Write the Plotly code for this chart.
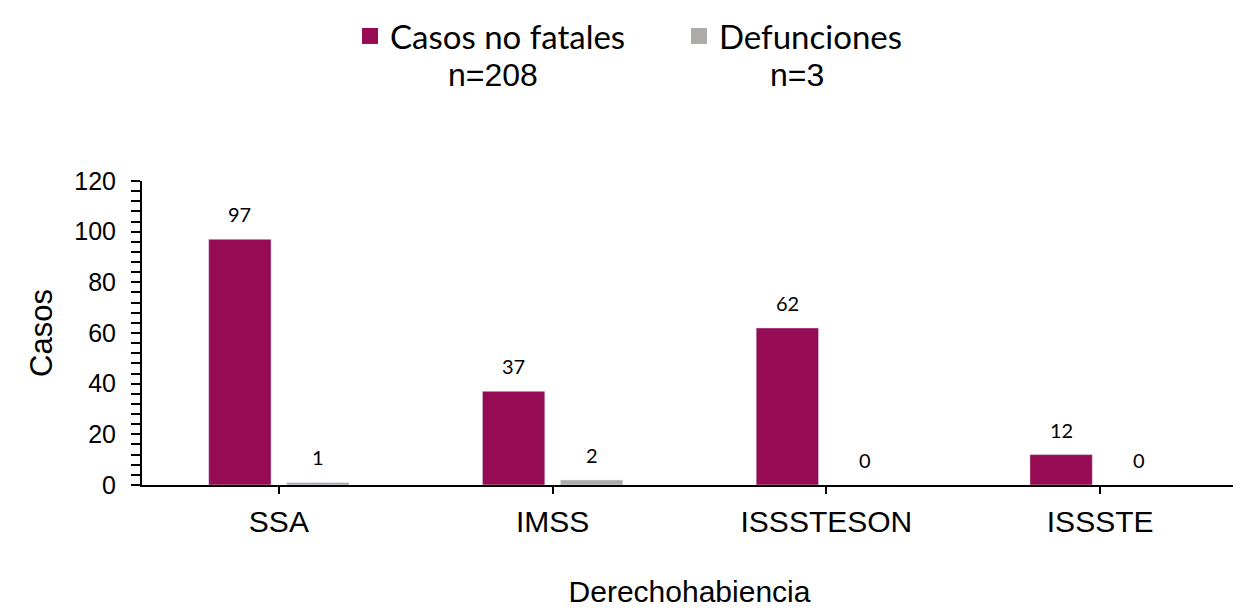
import plotly.graph_objects as go

categories = ["SSA", "IMSS", "ISSSTESON", "ISSSTE"]
casos_no_fatales = [97, 37, 62, 12]
defunciones = [1, 2, 0, 0]
series_names = ["Casos no fatales", "Defunciones"]
series_n = ["n=208", "n=3"]
y_ticks = [0, 20, 40, 60, 80, 100, 120]

MAROON = "#960C54"
GRAY = "#AEAAAA"

# geometry (figure px; page adds 8px body margin)
L, R, T, B = 134, 12, 173, 136
W, H = 1241, 613
PW, PH = W - L - R, H - T - B

fig = go.Figure()
fig.add_trace(go.Bar(x=categories, y=casos_no_fatales, name=series_names[0],
                     marker_color=MAROON, showlegend=False))
fig.add_trace(go.Bar(x=categories, y=defunciones, name=series_names[1],
                     marker_color=GRAY, showlegend=False))

# legend entries with square swatches
for name, col in zip(series_names, [MAROON, GRAY]):
    fig.add_trace(go.Scatter(x=[None], y=[None], mode="markers", name=name,
                             marker=dict(symbol="square", size=20, color=col)))

# value labels above bars
for vals, shift in [(casos_no_fatales, -39), (defunciones, 39)]:
    for c, v in zip(categories, vals):
        fig.add_annotation(x=c, y=v, text=str(v), showarrow=False,
                           xshift=shift, yshift=25, yanchor="middle",
                           font=dict(family="Lato", size=20, color="#000"))

# n annotations under legend
for txt, xs in zip(series_n, [493, 797]):
    fig.add_annotation(xref="paper", yref="paper", x=(xs - 8 - L) / PW,
                       y=(H - B - (75 - 8)) / PH,
                       text=txt, showarrow=False, xanchor="center", yanchor="middle",
                       font=dict(family="Liberation Sans", size=32, color="#000"))

fig.update_layout(
    width=W, height=H,
    margin=dict(l=L, r=R, t=T, b=B),
    paper_bgcolor="white", plot_bgcolor="white",
    barmode="group", bargap=0.43, bargroupgap=0.2,
    font=dict(family="Liberation Sans", color="#000"),
    legend=dict(orientation="h", xref="container", yref="container",
                x=342 / W, y=1, xanchor="left", yanchor="top",
                font=dict(family="Lato", size=33, color="#000"),
                itemsizing="trace", entrywidth=284, entrywidthmode="pixels",
                tracegroupgap=0, borderwidth=0),
)
fig.update_xaxes(showline=True, linecolor="#000", linewidth=2,
                 ticks="outside", ticklen=7, tickwidth=2, tickcolor="#000",
                 tickfont=dict(size=30), ticklabelstandoff=2,
                 title=dict(text="Derechohabiencia", font=dict(size=30), standoff=44),
                 showgrid=False)
fig.update_yaxes(range=[0, 120], tickvals=y_ticks, showline=True, linecolor="#000",
                 linewidth=2, ticks="outside", ticklen=9, tickwidth=2, tickcolor="#000",
                 tickfont=dict(size=25), ticklabelstandoff=10,
                 minor=dict(dtick=4, ticks="outside", ticklen=9, tickwidth=2, tickcolor="#000"),
                 title=dict(text="Casos", font=dict(size=31), standoff=12),
                 showgrid=False, zeroline=False)

fig.write_html("out.html")
